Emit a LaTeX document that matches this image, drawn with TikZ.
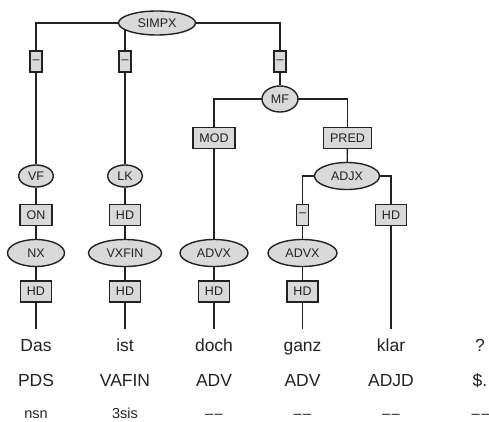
\documentclass[tikz,border=0pt]{standalone}
\usepackage{fontspec}
\setmainfont{Liberation Sans}
\usetikzlibrary{shapes.geometric,backgrounds}
\definecolor{nodefill}{RGB}{217,217,217}
\definecolor{ink}{RGB}{34,34,34}
\newcommand{\twodash}{\textendash\kern1.5pt\textendash}
\tikzset{
  cat/.style={ellipse, draw=ink, fill=nodefill, line width=1.4pt, text=ink,
    inner sep=0pt, font=\fontsize{12.5}{14}\selectfont},
  edgebox/.style={rectangle, draw=ink, fill=nodefill, line width=1.4pt, text=ink,
    inner xsep=6.5pt, inner ysep=0pt, minimum width=28pt, minimum height=21pt,
    font=\fontsize{12.5}{14}\selectfont},
  dashbox/.style={edgebox, minimum width=12pt, inner xsep=0pt},
  word/.style={text=ink, inner xsep=0pt, inner ysep=10pt, text height=12.5pt, text depth=3.5pt,
    anchor=base, font=\fontsize{17.5}{20}\selectfont},
  tag/.style={text=ink, inner sep=0pt, anchor=base, font=\fontsize{17.5}{20}\selectfont},
  morph/.style={text=ink, inner sep=0pt, anchor=base, font=\fontsize{14.5}{17}\selectfont},
  link/.style={draw=ink, line width=1.4pt}
}
\begin{document}
\begin{tikzpicture}[x=1pt,y=-1pt]
\useasboundingbox (0,0) rectangle (489,422);
% categories
\node[cat, minimum width=77pt, minimum height=24pt] (simpx) at (157,23) {SIMPX};
\node[cat, minimum width=36pt, minimum height=26pt] (mf) at (280,99) {MF};
\node[cat, minimum width=35pt, minimum height=22pt] (vf) at (36,176) {VF};
\node[cat, minimum width=35pt, minimum height=22pt] (lk) at (125,176) {LK};
\node[cat, minimum width=65pt, minimum height=27pt] (adjx) at (347,176) {ADJX};
\node[cat, minimum width=57pt, minimum height=27pt] (nx) at (36,253) {NX};
\node[cat, minimum width=73pt, minimum height=27pt] (vxfin) at (125,253) {VXFIN};
\node[cat, minimum width=68pt, minimum height=27pt] (advxa) at (214,253) {ADVX};
\node[cat, minimum width=69pt, minimum height=27pt] (advxb) at (302.5,253) {ADVX};
% edge labels
\node[dashbox] (d1) at (36,61.5) {–};
\node[dashbox] (d2) at (125,61.5) {–};
\node[dashbox] (d3) at (280,61.5) {–};
\node[edgebox] (mod) at (214,138) {MOD};
\node[edgebox] (pred) at (347.5,138) {PRED};
\node[edgebox] (on) at (36,215) {ON};
\node[edgebox] (hdlk) at (125,215) {HD};
\node[dashbox] (d4) at (302.5,215) {–};
\node[edgebox] (hdklar) at (391,215) {HD};
\node[edgebox] (hd1) at (36,291.5) {HD};
\node[edgebox] (hd2) at (125,291.5) {HD};
\node[edgebox] (hd3) at (214,291.5) {HD};
\node[edgebox] (hd4) at (302.5,291.5) {HD};
% words
\node[word] (w1) at (36,351.7) {Das};
\node[word] (w2) at (125,351.7) {ist};
\node[word] (w3) at (214,351.7) {doch};
\node[word] (w4) at (302.5,351.7) {ganz};
\node[word] (w5) at (391,351.7) {klar};
\node[word] (w6) at (480,351.7) {?};
\node[tag] (t1) at (36,386.7) {PDS};
\node[tag] (t2) at (125,386.7) {VAFIN};
\node[tag] (t3) at (214,386.7) {ADV};
\node[tag] (t4) at (302.5,386.7) {ADV};
\node[tag] (t5) at (391,386.7) {ADJD};
\node[tag] (t6) at (480,386.7) {\$.};
\node[morph] (m1) at (36,418) {nsn};
\node[morph] (m2) at (125,418) {3sis};
\node[morph] (m3) at (214,418) {\twodash};
\node[morph] (m4) at (302.5,418) {\twodash};
\node[morph] (m5) at (391,418) {\twodash};
\node[morph] (m6) at (480.5,418) {\twodash};
\begin{scope}[on background layer]
\draw[link] (simpx.center) -| (d1.north);
\draw[link] (simpx.center) -| (d2.north);
\draw[link] (simpx.center) -| (d3.north);
\draw[link] (d1) -- (vf);
\draw[link] (d2) -- (lk);
\draw[link] (d3) -- (mf);
\draw[link] (mf.center) -| (mod.north);
\draw[link] (mf.center) -| (pred.north);
\draw[link] (vf) -- (on) -- (nx) -- (hd1) -- (w1);
\draw[link] (lk) -- (hdlk) -- (vxfin) -- (hd2) -- (w2);
\draw[link] (mod) -- (advxa) -- (hd3) -- (w3);
\draw[link] (pred) -- (adjx);
\draw[link] (adjx.center) -| (d4.north);
\draw[link] (adjx.center) -| (hdklar.north);
\draw[link] (d4) -- (advxb) -- (hd4) -- (w4);
\draw[link] (hdklar) -- (w5);
\end{scope}
\end{tikzpicture}
\end{document}
